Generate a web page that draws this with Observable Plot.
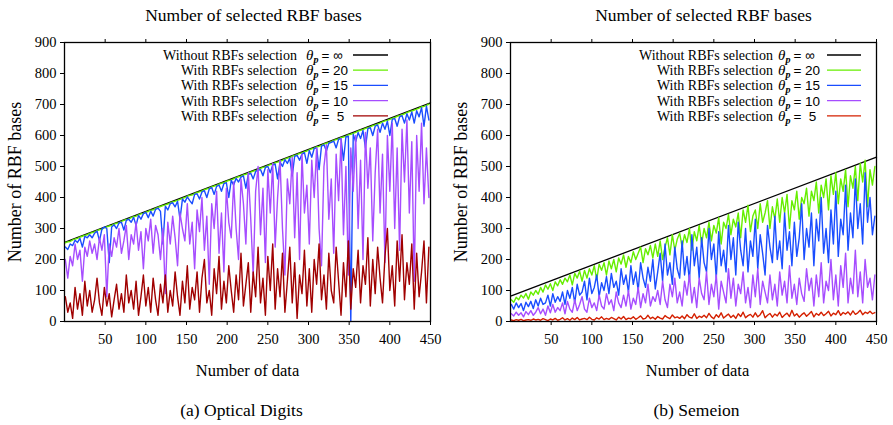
<!DOCTYPE html>
<html><head><meta charset="utf-8">
<script src="https://cdn.jsdelivr.net/npm/d3@7"></script>
<script src="https://cdn.jsdelivr.net/npm/@observablehq/plot@0.6"></script>
<style>
body{margin:0;background:#fff}
#wrap{position:relative;width:893px;height:425px;overflow:hidden}
.panel{position:absolute;top:0}
</style>
</head><body><div id="wrap"></div>
<script>
// ---------- data ----------
const xTicks = [50,100,150,200,250,300,350,400,450];
const yTicks = [0,100,200,300,400,500,600,700,800,900];
const sampleX = d3.range(1, 451, 3); // sample positions (number of data)
const lineEndsX = [1, 450];

const seriesLabels = ["Without RBFs selection","With RBFs selection","With RBFs selection","With RBFs selection","With RBFs selection"];
const thetaValues = ["= \u221E","= 20","= 15","= 10","=  5"];
const titles = ["Number of selected RBF bases","Number of selected RBF bases"];
const captions = ["(a) Optical Digits","(b) Semeion"];

// (a) Optical Digits
const optNoSel = [256, 705];
const optTheta20 = [
254,257,258,263,266,268,272,275,278,280,
284,287,289,293,296,298,302,305,308,310,
314,317,318,323,326,329,330,335,338,340,
344,347,349,353,355,359,360,365,368,371,
374,376,379,383,386,388,391,394,397,400,
404,407,408,413,416,418,421,425,428,430,
434,437,439,443,446,448,452,455,457,460,
464,467,469,473,475,478,482,485,487,490,
494,497,499,503,506,508,512,514,517,520,
524,527,529,533,536,538,542,544,547,550,
554,557,559,563,565,568,572,575,577,580,
584,587,589,593,595,598,602,604,607,610,
614,617,619,623,625,628,632,634,637,640,
644,647,649,652,655,658,662,664,667,670,
674,677,679,682,685,688,692,694,697,701];
const optTheta15 = [
240,232,250,245,262,255,268,240,275,270,
280,270,285,292,260,298,305,300,190,305,
312,300,318,320,295,326,330,320,336,310,
342,330,348,352,335,356,340,362,366,355,
250,372,360,380,383,370,388,330,395,385,
402,390,380,410,412,395,418,422,400,428,
432,410,436,440,420,445,448,400,455,440,
462,450,466,470,430,475,478,460,484,488,
490,470,497,500,480,505,508,460,515,500,
522,510,527,470,533,536,520,540,545,510,
552,530,558,560,490,566,570,550,575,578,
582,560,588,590,520,596,598,0,604,580,
610,590,616,560,622,625,600,630,634,610,
640,620,646,600,652,655,630,660,664,640,
670,650,676,640,680,660,690,630,695,650];
const optTheta10 = [
200,140,210,180,250,200,230,130,240,210,
260,220,250,200,270,230,280,80,250,210,
270,240,300,220,260,310,200,280,250,320,
230,290,170,300,260,330,220,310,280,200,
300,90,320,250,340,270,180,350,300,260,
380,250,320,170,360,290,400,230,340,120,
380,300,420,220,350,160,430,320,270,450,
300,200,460,380,250,480,330,150,420,500,
280,430,190,490,350,510,240,400,520,300,
150,460,380,530,270,480,200,540,350,440,
250,520,400,560,300,180,500,570,330,460,
220,540,390,590,280,500,150,560,420,600,
300,520,200,610,430,560,260,480,620,350,
540,190,600,420,640,300,560,230,620,450,
650,350,580,130,600,420,640,380,560,400];
const optTheta5 = [
80,30,60,10,110,40,90,20,130,50,
100,30,70,140,60,20,110,50,90,15,
70,120,40,90,30,150,60,100,40,130,
20,80,150,50,110,30,140,70,20,120,
60,150,30,100,50,160,80,20,130,60,
180,40,110,70,160,30,140,200,60,100,
20,170,90,210,40,130,60,180,100,30,
150,70,220,50,120,190,30,160,80,240,
60,140,20,210,100,250,40,170,80,220,
30,130,240,60,190,10,150,90,230,50,
170,30,200,120,250,70,150,40,220,100,
60,240,130,20,190,80,260,40,170,110,
230,60,180,120,270,50,200,90,240,140,
60,210,300,100,180,50,260,130,280,70,
190,120,250,40,220,80,160,260,60,240];

// (b) Semeion
const semNoSel = [83, 530];
const semTheta20 = [
70,62,78,70,85,76,90,72,95,85,
100,88,110,95,118,104,122,100,128,115,
135,120,140,128,150,118,155,140,162,130,
165,140,170,150,180,135,185,165,190,150,
195,170,200,160,205,185,215,175,210,190,
225,200,220,240,190,235,215,245,205,250,
210,260,200,240,270,215,280,230,265,285,
240,280,255,300,230,290,260,310,250,300,
270,320,260,310,285,335,250,320,300,345,
280,330,305,350,270,360,320,375,290,340,
360,300,380,320,350,390,300,370,330,395,
320,400,350,410,300,390,360,420,330,400,
380,430,340,420,390,450,350,440,400,460,
360,470,410,480,380,460,420,490,370,470,
430,500,390,510,450,520,370,490,440,500];
const semTheta15 = [
55,40,60,45,58,35,62,48,65,42,
70,50,75,55,60,85,50,90,62,80,
65,95,55,100,75,110,60,120,85,95,
130,70,140,90,110,150,80,125,100,145,
90,155,110,130,85,170,120,150,95,180,
120,160,100,190,140,110,175,130,200,105,
160,220,130,250,150,190,120,240,170,140,
260,150,210,130,280,180,240,140,270,190,
160,300,200,250,140,290,180,230,160,310,
200,270,150,320,230,180,300,160,260,210,
330,170,280,220,150,310,240,190,340,200,
260,170,350,230,290,180,320,210,270,380,
200,300,240,350,180,330,260,400,220,300,
190,360,250,420,210,330,280,440,230,350,
270,460,300,380,250,480,320,400,280,340];
const semTheta10 = [
25,18,30,20,28,15,32,22,35,20,
30,45,25,40,20,50,28,55,30,45,
35,60,25,65,40,30,70,35,55,80,
40,30,75,45,60,35,85,50,40,90,
55,70,35,95,60,45,85,50,100,40,
75,55,110,45,90,60,120,50,80,65,
100,55,130,70,45,120,80,140,60,95,
50,130,85,150,60,110,45,140,90,70,
160,55,120,80,150,40,130,95,60,170,
75,140,50,120,90,160,60,110,45,150,
80,170,55,130,95,60,150,70,120,50,
160,85,130,60,180,75,120,55,140,90,
65,170,100,140,50,150,80,190,60,130,
100,200,70,150,50,180,110,220,60,140,
90,230,80,160,60,200,110,140,70,150];
const semTheta5 = [
5,3,6,4,7,3,5,6,4,8,
5,7,4,9,6,3,8,5,10,4,
7,12,5,9,4,11,6,13,5,8,
10,6,14,7,5,12,8,15,6,10,
7,13,9,5,14,8,16,6,11,9,
15,7,12,18,8,10,20,9,14,7,
16,11,8,19,13,9,21,12,15,10,
18,9,22,14,11,25,10,17,13,20,
12,26,15,9,22,14,28,11,18,24,
13,20,10,25,16,30,12,19,23,14,
28,15,22,35,12,20,26,14,24,18,
30,13,21,27,16,36,18,25,14,22,
28,17,24,32,15,26,20,30,19,25,
33,18,27,22,35,20,29,24,31,21,
34,23,28,36,22,30,26,33,25,29];

// ---------- styling ----------
const colorsA = ["#000000","#66ee00","#1a4dff","#a64dff","#a00000"];
const colorsB = ["#000000","#66ee00","#1a4dff","#a64dff","#d42000"];
const SERIF = "Liberation Serif";
const SANS = "Liberation Sans";

function panel(cfg) {
  const lines = [
    Plot.line(lineEndsX.map((x,i)=>i), {x: i=>lineEndsX[i], y: i=>cfg.noSel[i], stroke: cfg.colors[0], strokeWidth: 1.3}),
  ];
  cfg.series.forEach((vals, k) => {
    lines.push(Plot.line(vals, {x: sampleX, y: vals, stroke: cfg.colors[k+1], strokeWidth: 1.4}));
  });
  const svg = Plot.plot({
    width: cfg.width, height: 425,
    marginLeft: cfg.ml, marginRight: cfg.mr, marginTop: 42, marginBottom: 104,
    style: {fontSize: "14.5px", background: "white", color: "black", fontFamily: SERIF},
    x: {domain: [0, 450]},
    y: {domain: [0, 900]},
    marks: [
      ...lines,
      Plot.frame({stroke: "black", strokeWidth: 1.3}),
      Plot.axisX({ticks: xTicks, tickSize: 4, tickPadding: 8, label: null, fontSize: 14.5}),
      Plot.axisX({anchor: "top", ticks: xTicks, tickSize: 4, tickFormat: () => "", label: null}),
      Plot.axisY({ticks: yTicks, tickSize: 4, tickPadding: 4, label: null, fontSize: 14.5}),
      Plot.text([cfg.title], {text: d=>d, frameAnchor: "top", textAnchor: "middle", lineAnchor: "middle", dy: -27, dx: cfg.titleDx, fontSize: 17.5}),
      Plot.text(["Number of RBF bases"], {text: d=>d, frameAnchor: "left", textAnchor: "middle", lineAnchor: "middle", rotate: -90, dx: -49, fontSize: 18}),
      Plot.text(["Number of data"], {text: d=>d, frameAnchor: "bottom", textAnchor: "middle", lineAnchor: "middle", dy: 49, dx: cfg.xlabDx, fontSize: 16.5}),
      Plot.text([cfg.caption], {text: d=>d, frameAnchor: "bottom", textAnchor: "middle", lineAnchor: "middle", dy: 89, dx: cfg.capDx, fontSize: 17.5})
    ]
  });
  d3.select(svg).attr("font-family", SERIF);
  // legend
  const g = d3.select(svg).append("g");
  seriesLabels.forEach((lab, k) => {
    const y = 55 + k * 15.2;
    g.append("text").attr("x", cfg.leg.textEnd).attr("y", y).attr("dy", "0.35em")
      .attr("text-anchor", "end").attr("font-size", 14).attr("fill", "black").text(lab);
    const t = g.append("text").attr("x", cfg.leg.thetaX).attr("y", y).attr("dy", "0.35em").attr("fill", "black").attr("text-anchor", "start");
    t.append("tspan").attr("font-style", "italic").attr("font-size", 15).text("\u03B8");
    t.append("tspan").attr("font-style", "italic").attr("font-weight", "bold").attr("font-size", 10).attr("dy", 3).text("p");
    t.append("tspan").attr("data-sans", "1").attr("font-size", 13.5).attr("dy", -3).attr("dx", 3).text(thetaValues[k]);
    g.append("line").attr("x1", cfg.leg.l1).attr("x2", cfg.leg.l2).attr("y1", y).attr("y2", y)
      .attr("stroke", cfg.colors[k]).attr("stroke-width", 1.3);
  });
  d3.select(svg).selectAll("text, tspan").attr("font-family", SERIF).style("font-family", SERIF);
  d3.select(svg).selectAll("tspan[data-sans]").attr("font-family", SANS).style("font-family", SANS);
  svg.classList.add("panel");
  svg.style.left = cfg.left + "px";
  return svg;
}

const wrap = document.getElementById("wrap");
wrap.appendChild(panel({
  left: 0, width: 446, ml: 64, mr: 16,
  noSel: optNoSel, series: [optTheta20, optTheta15, optTheta10, optTheta5], colors: colorsA,
  title: titles[0], caption: captions[0], titleDx: 6, xlabDx: 0, capDx: -6,
  leg: {textEnd: 297, thetaX: 306, l1: 353, l2: 388}
}));
wrap.appendChild(panel({
  left: 446, width: 447, ml: 64, mr: 17,
  noSel: semNoSel, series: [semTheta20, semTheta15, semTheta10, semTheta5], colors: colorsB,
  title: titles[1], caption: captions[1], titleDx: 10, xlabDx: 4, capDx: 3,
  leg: {textEnd: 773 - 446, thetaX: 778 - 446, l1: 827 - 446, l2: 861 - 446}
}));
</script></body></html>
